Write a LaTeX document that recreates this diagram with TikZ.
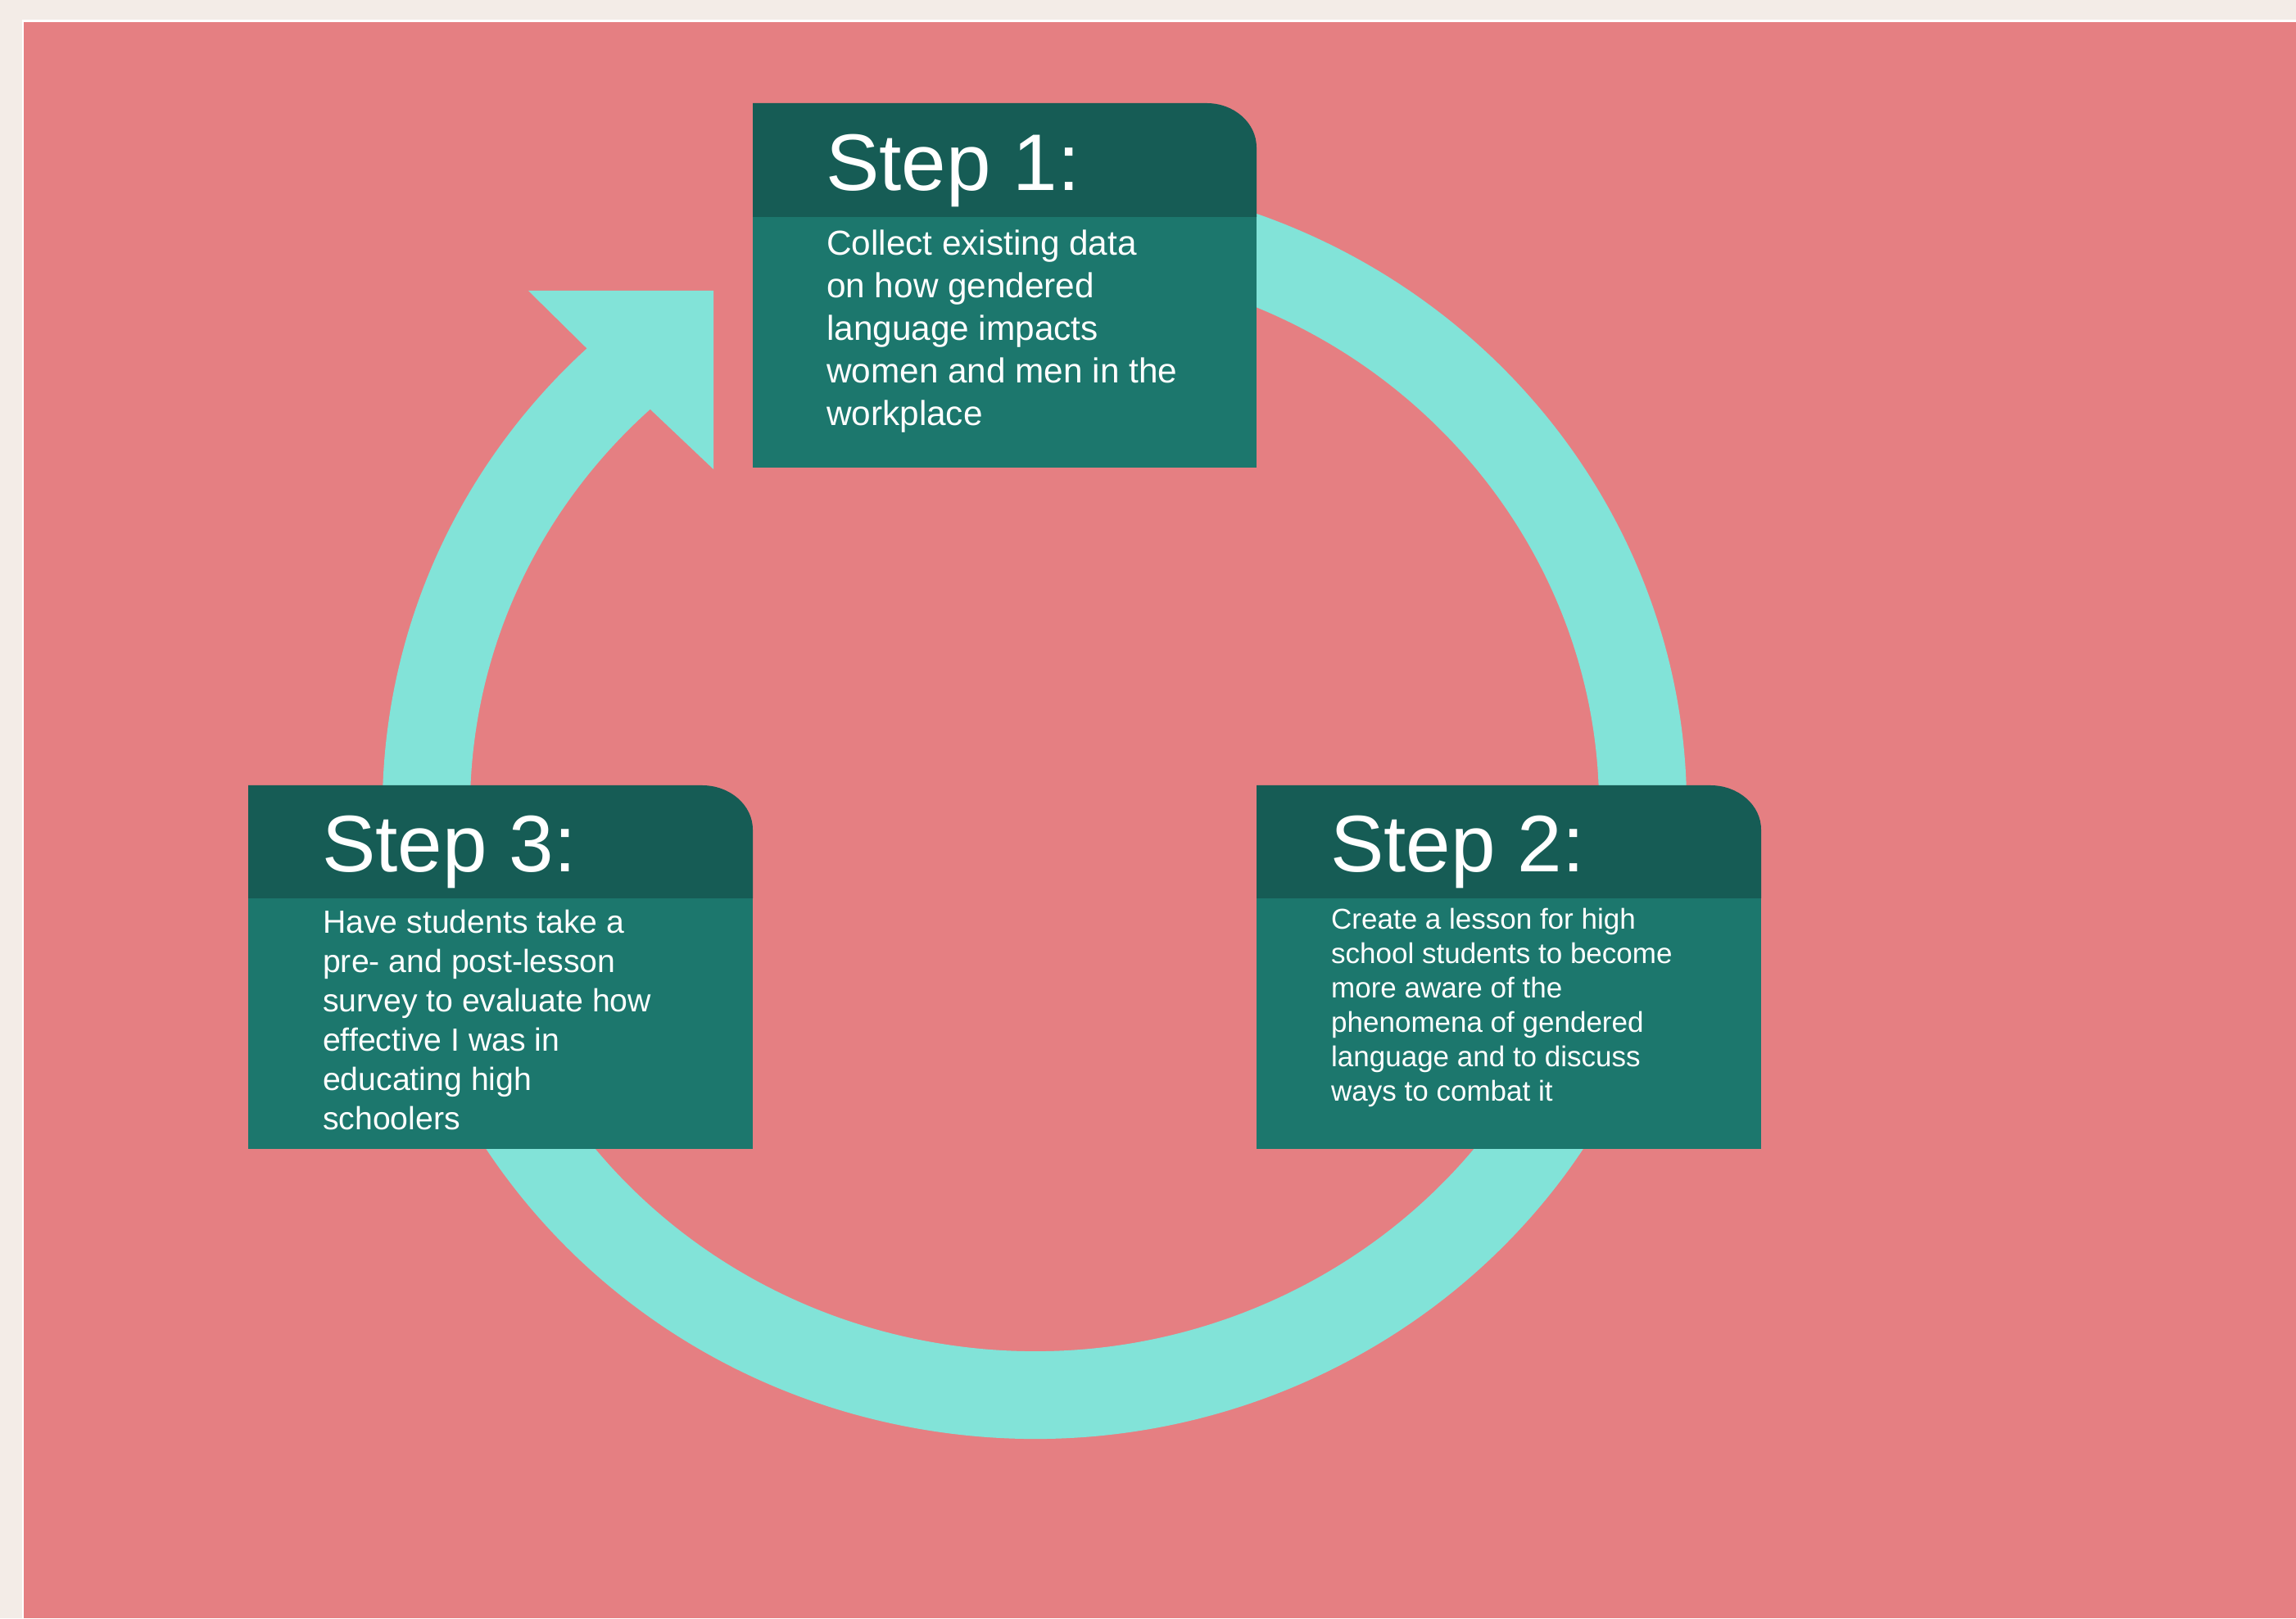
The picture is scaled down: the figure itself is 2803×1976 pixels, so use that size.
\documentclass[tikz,border=0pt]{standalone}
\usepackage{fontspec}
\setmainfont{Liberation Sans}
\definecolor{cream}{HTML}{F3ECE7}
\definecolor{rose}{HTML}{E57F82}
\definecolor{aqua}{HTML}{82E3D8}
\definecolor{headteal}{HTML}{165C55}
\definecolor{bodyteal}{HTML}{1C776D}
\tikzset{
  ringline/.style={draw=aqua, line width=107pt, line cap=butt},
  headbox/.style={fill=headteal},
  bodybox/.style={fill=bodyteal},
  steptitle/.style={text=white, anchor=base west, inner sep=0pt, font=\fontsize{98}{98}\selectfont},
  stepbody/.style={text=white, anchor=base west, inner sep=0pt},
}
\begin{document}
\begin{tikzpicture}[x=1pt,y=1pt]
\useasboundingbox (0,0) rectangle (2803,1976);
% background
\fill[cream] (0,0) rectangle (2803,1976);
\fill[white] (26.5,0) rectangle (2803,1951.5);
\fill[rose] (29.3,0) rectangle (2803,1949);
% ring
\coordinate (ringc) at (1263,990);
\path (ringc) ++(80:742.5 and 717.5) coordinate (ringstart);
\draw[ringline] (ringstart) arc[start angle=80, end angle=-228, x radius=742.5, y radius=717.5];
% arrow head
\fill[aqua] (645,1621) -- (871,1621) -- (871,1403) -- (794,1476) -- (716,1551) -- cycle;
% box 1
\fill[bodybox] (919,1405) rectangle (1534,1711);
\fill[headbox] (919,1711) -- (919,1850) -- (1473,1850) arc[start angle=90, end angle=0, x radius=61, y radius=54] -- (1534,1711) -- cycle;
% box 2
\fill[bodybox] (1534,573) rectangle (2150,879);
\fill[headbox] (1534,879) -- (1534,1017) -- (2088,1017) arc[start angle=90, end angle=0, x radius=62, y radius=54] -- (2150,879) -- cycle;
% box 3
\fill[bodybox] (303,573) rectangle (919,879);
\fill[headbox] (303,879) -- (303,1017) -- (857,1017) arc[start angle=90, end angle=0, x radius=62, y radius=54] -- (919,879) -- cycle;
% titles
\node[steptitle] (title1) at (1008,1743) {Step 1:};
\node[steptitle] (title2) at (1624,911) {Step 2:};
\node[steptitle] (title3) at (393,911) {Step 3:};
% bodies
\node[stepbody, font=\fontsize{42.3}{52}\selectfont] (body1) at (1009,1664)
  {\vtop{\baselineskip=52pt\lineskiplimit=-100pt
   \hbox{Collect existing data}\hbox{on how gendered}\hbox{language impacts}\hbox{women and men in the}\hbox{workplace}}};
\node[stepbody, font=\fontsize{35}{42}\selectfont] (body2) at (1625,841)
  {\vtop{\baselineskip=42pt\lineskiplimit=-100pt
   \hbox{Create a lesson for high}\hbox{school students to become}\hbox{more aware of the}\hbox{phenomena of gendered}\hbox{language and to discuss}\hbox{ways to combat it}}};
\node[stepbody, font=\fontsize{39.2}{48}\selectfont] (body3) at (394,836)
  {\vtop{\baselineskip=48pt\lineskiplimit=-100pt
   \hbox{Have students take a}\hbox{pre- and post-lesson}\hbox{survey to evaluate how}\hbox{effective I was in}\hbox{educating high}\hbox{schoolers}}};
\end{tikzpicture}
\end{document}
